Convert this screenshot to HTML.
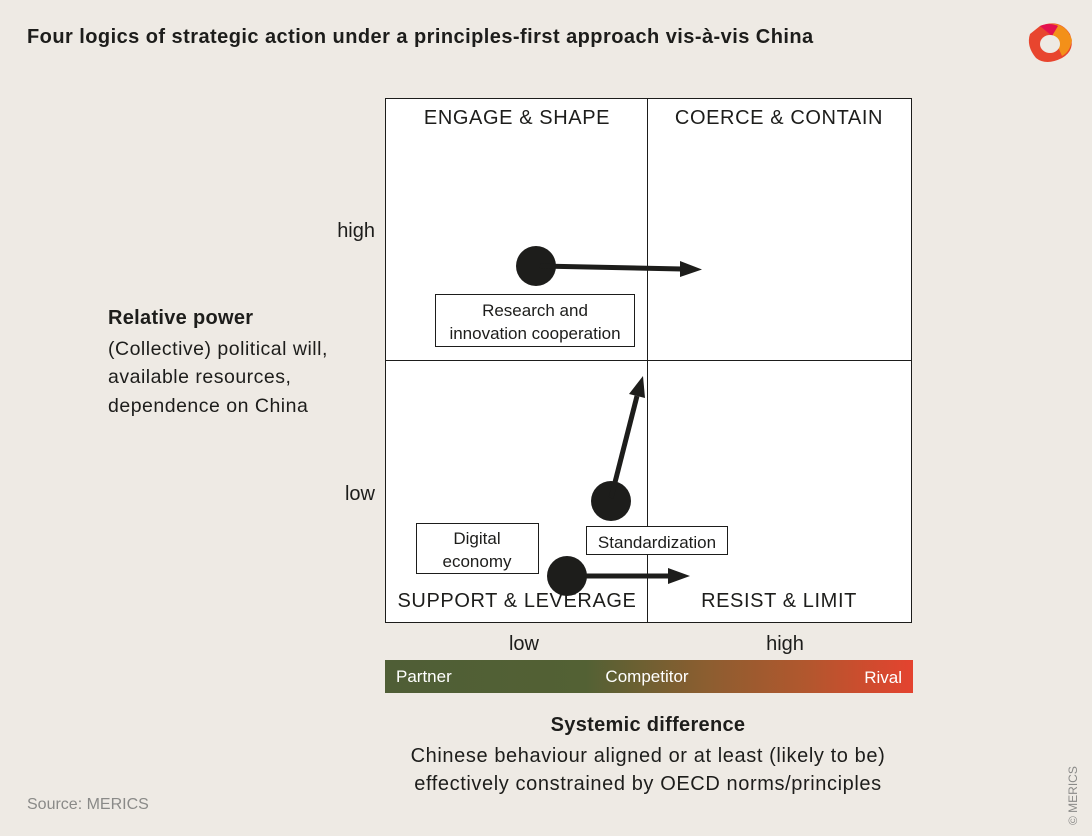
<!DOCTYPE html>
<html><head><meta charset="utf-8"><style>
body{margin:0;width:1092px;height:836px;background:#eeeae4;overflow:hidden}
svg{display:block}
text{font-family:"Liberation Sans",sans-serif;fill:#1d1d1b}
</style></head><body>
<svg width="1092" height="836" viewBox="0 0 1092 836">
<defs>
<linearGradient id="g" x1="0" x2="1">
<stop offset="0" stop-color="#4f5e36"/>
<stop offset="0.38" stop-color="#536134"/>
<stop offset="0.6" stop-color="#8a5e30"/>
<stop offset="0.8" stop-color="#b2572e"/>
<stop offset="1" stop-color="#e4432f"/>
</linearGradient>
</defs>
<text x="27" y="43" font-size="20" font-weight="bold" letter-spacing="0.45">Four logics of strategic action under a principles-first approach vis-à-vis China</text>
<!-- logo -->
<path d="M1040 26 Q1060 18 1070 34 Q1076 50 1062 58 Q1046 66 1036 58 Q1026 46 1030 34 Z" fill="#e8452e"/>
<path d="M1048 24 Q1066 22 1072 40 Q1070 52 1062 56 Z" fill="#f39019"/>
<path d="M1040 26 Q1050 22 1058 26 L1052 36 Z" fill="#e3104f"/>
<ellipse cx="1050" cy="44" rx="10" ry="9" fill="#eeeae4"/>
<rect x="385.5" y="98.5" width="526" height="524" fill="#fff" stroke="#1d1d1b"/>
<line x1="647.5" y1="98" x2="647.5" y2="622" stroke="#1d1d1b"/>
<line x1="385" y1="360.5" x2="911" y2="360.5" stroke="#1d1d1b"/>
<g font-size="20" letter-spacing="0.6">
<text x="517" y="124" text-anchor="middle">ENGAGE &amp; SHAPE</text>
<text x="779" y="124" text-anchor="middle">COERCE &amp; CONTAIN</text>
<text x="517" y="607" text-anchor="middle">SUPPORT &amp; LEVERAGE</text>
<text x="779" y="607" text-anchor="middle">RESIST &amp; LIMIT</text>
</g>
<rect x="435.5" y="294.5" width="199" height="52" fill="#fff" stroke="#1d1d1b"/>
<text x="535" y="316" font-size="17" text-anchor="middle">Research and</text>
<text x="535" y="339" font-size="17" text-anchor="middle">innovation cooperation</text>
<rect x="416.5" y="523.5" width="122" height="50" fill="#fff" stroke="#1d1d1b"/>
<text x="477" y="544" font-size="17" text-anchor="middle">Digital</text>
<text x="477" y="567" font-size="17" text-anchor="middle">economy</text>
<rect x="586.5" y="526.5" width="141" height="28" fill="#fff" stroke="#1d1d1b"/>
<text x="657" y="548" font-size="17" text-anchor="middle">Standardization</text>
<g fill="#1d1d1b" stroke="#1d1d1b">
<circle cx="536" cy="266" r="20" stroke="none"/>
<line x1="540" y1="266" x2="682" y2="269" stroke-width="5"/>
<polygon points="680,261 702,269.5 680,277" stroke="none"/>
<circle cx="611" cy="501" r="20" stroke="none"/>
<line x1="611" y1="498" x2="637" y2="396" stroke-width="5"/>
<polygon points="629,394 643,376 645,398" stroke="none"/>
<circle cx="567" cy="576" r="20" stroke="none"/>
<line x1="570" y1="576" x2="670" y2="576" stroke-width="5"/>
<polygon points="668,568 690,576 668,584" stroke="none"/>
</g>
<text x="375" y="237" font-size="20" text-anchor="end">high</text>
<text x="375" y="500" font-size="20" text-anchor="end">low</text>
<text x="108" y="324" font-size="20" font-weight="bold" letter-spacing="0.3">Relative power</text>
<g font-size="19.5" letter-spacing="0.5">
<text x="108" y="355">(Collective) political will,</text>
<text x="108" y="383">available resources,</text>
<text x="108" y="412">dependence on China</text>
</g>
<text x="524" y="650" font-size="20" text-anchor="middle">low</text>
<text x="785" y="650" font-size="20" text-anchor="middle">high</text>
<rect x="385" y="660" width="528" height="33" fill="url(#g)"/>
<text x="396" y="682" font-size="17" style="fill:#fff">Partner</text>
<text x="647" y="682" font-size="17" text-anchor="middle" style="fill:#fff">Competitor</text>
<text x="902" y="683" font-size="17" text-anchor="end" style="fill:#fff">Rival</text>
<text x="648" y="731" font-size="20" font-weight="bold" text-anchor="middle" letter-spacing="0.3">Systemic difference</text>
<g font-size="20" letter-spacing="0.6">
<text x="648" y="762" text-anchor="middle">Chinese behaviour aligned or at least (likely to be)</text>
<text x="648" y="790" text-anchor="middle">effectively constrained by OECD norms/principles</text>
</g>
<text x="27" y="809" font-size="16" style="fill:#8a8a88">Source: MERICS</text>
<text transform="translate(1077,825) rotate(-90)" font-size="12" style="fill:#8a8a88">© MERICS</text>
</svg>
</body></html>
